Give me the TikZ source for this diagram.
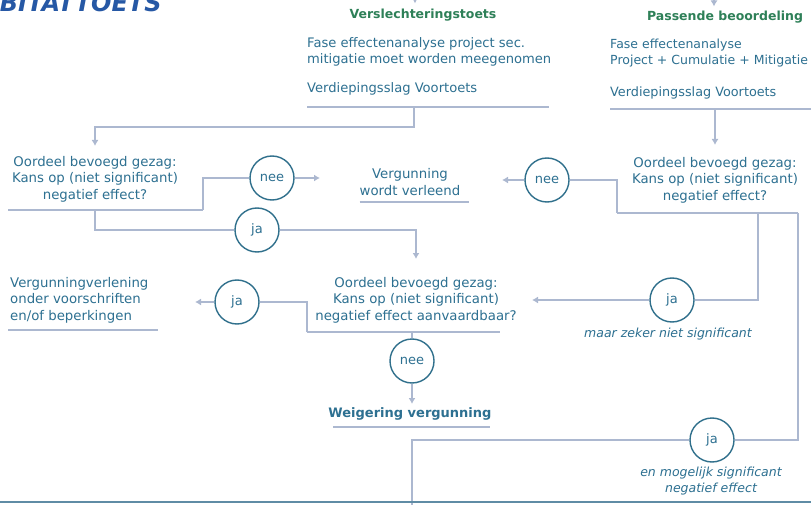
\documentclass[tikz,border=0pt]{standalone}
\usepackage{fontspec}
\setmainfont{DejaVu Sans}
\usetikzlibrary{arrows.meta}

\definecolor{tealtext}{RGB}{45,112,145}
\definecolor{circteal}{RGB}{48,112,140}
\definecolor{wiregray}{RGB}{172,184,208}
\definecolor{headgreen}{RGB}{46,128,88}
\definecolor{titleblue}{RGB}{38,88,165}
\definecolor{edgeline}{RGB}{95,140,165}

\begin{document}
\begin{tikzpicture}[x=1pt, y=-1pt,
  body/.style={font=\fontsize{13.3}{16.5}\selectfont, text=tealtext, inner sep=0pt,
               align=center, anchor=north},
  block/.style={font=\fontsize{13.1}{16}\selectfont, text=tealtext, inner sep=0pt,
                align=left, anchor=north west},
  head/.style={font=\fontsize{12.5}{15}\selectfont\bfseries, text=headgreen,
               inner sep=0pt, anchor=north},
  note/.style={font=\fontsize{12.5}{16}\selectfont\itshape, text=tealtext,
               inner sep=0pt, align=center, anchor=north},
  answer/.style={circle, draw=circteal, line width=1.4pt, minimum size=44pt,
                 inner sep=0pt, fill=white, font=\fontsize{13}{15}\selectfont,
                 text=tealtext},
  wire/.style={draw=wiregray, line width=1.7pt},
  arr/.style={wire, -{Latex[length=6pt, width=7pt]}},
  title/.style={font=\fontsize{24}{28}\selectfont\bfseries\itshape, text=titleblue,
                inner sep=0pt, anchor=base west}
]

  % page
  \fill[white] (0,0) rectangle (811,505);
  \useasboundingbox (0,0) rectangle (811,505);

  % title (cut by the page edge)
  \node[title] (title) at (-39,12) {HABITATTOETS};

  % column heads
  \node[head] (hdrL) at (423,8.5) {Verslechteringstoets};
  \node[head] (hdrR) at (725,10.5) {Passende beoordeling};

  \node[block] (fasL) at (307,37) {Fase effectenanalyse project sec.\\mitigatie moet worden meegenomen};
  \node[block] (verdL) at (307,82) {Verdiepingsslag Voortoets};
  \node[block, font=\fontsize{12.5}{16}\selectfont] (fasR) at (610,38.5) {Fase effectenanalyse\\Project + Cumulatie + Mitigatie};
  \node[block, font=\fontsize{12.8}{16}\selectfont] (verdR) at (610,86.5) {Verdiepingsslag Voortoets};

  % decisions and outcomes
  \node[body] (oordL) at (95,156) {Oordeel bevoegd gezag:\\Kans op (niet significant)\\negatief effect?};
  \node[body] (oordR) at (715,157) {Oordeel bevoegd gezag:\\Kans op (niet significant)\\negatief effect?};
  \node[body] (verleend) at (410,168.5) {Vergunning\\wordt verleend};
  \node[body] (oordM) at (416,277) {Oordeel bevoegd gezag:\\Kans op (niet significant)\\negatief effect aanvaardbaar?};
  \node[body, align=left, anchor=north west] (verlening) at (10,277) {Vergunningverlening\\onder voorschriften\\en/of beperkingen};
  \node[body, font=\fontsize{13}{16}\selectfont\bfseries] (weigering) at (410,407.5) {Weigering vergunning};

  % answers
  \node[answer] (neeL) at (272,178) {nee};
  \node[answer] (jaL) at (257,230) {ja};
  \node[answer] (neeR) at (547,180) {nee};
  \node[answer] (jaM) at (237,302) {ja};
  \node[answer] (jaR) at (672,300) {ja};
  \node[answer] (neeM) at (412,361) {nee};
  \node[answer] (jaB) at (712,440) {ja};

  \node[note] (zeker) at (668,328) {maar zeker niet significant};
  \node[note] (mogelijk) at (711,467) {en mogelijk significant\\negatief effect};

  % corner points
  \coordinate (topL) at (415,-14);
  \coordinate (topR) at (714,-14);
  \coordinate (ulL) at (307,107);
  \coordinate (ulR) at (610,109);
  \coordinate (forkL) at (414,107);
  \coordinate (ulOL) at (8,210);
  \coordinate (ulOR) at (617,213);
  \coordinate (forkR) at (758,213);
  \coordinate (railR) at (798,213);
  \coordinate (ulOM) at (307,332);
  \coordinate (ulV) at (8,330);
  \coordinate (ulW) at (333,427);
  \coordinate (exitB) at (412,520);
  \coordinate (tipL) at (320,178);
  \coordinate (tipR) at (502,180);
  \coordinate (tipM) at (195,302);
  \coordinate (tipJ) at (532,300);
  \coordinate (tipW) at (412,404);

  % underlines
  \draw[wire] (ulL) -- ++(242,0);
  \draw[wire] (ulR) -- ++(215,0);
  \draw[wire] (ulOL) -- ++(195,0);
  \draw[wire] (ulOR) -- (railR);
  \draw[wire] (verleend.south west) ++(0,6) -- ++(109,0);
  \draw[wire] (ulOM) -- ++(193,0);
  \draw[wire] (ulV) -- ++(150,0);
  \draw[wire, line width=1.2pt] (ulW) -- ++(157,0);

  % connectors
  \draw[arr, shorten >=5pt] (topL) -- (topL |- hdrL.north);
  \draw[arr, shorten >=4pt] (topR) -- (topR |- hdrR.north);
  \draw[arr, shorten >=10pt] (forkL) -- ++(0,20) -| (oordL.north);
  \draw[arr, shorten >=12pt] (oordR.north |- ulR) -- (oordR.north);

  \draw[wire] (ulOL) ++(195,0) |- (neeL);
  \draw[arr] (neeL) -- (tipL);
  \draw[wire] (oordL.south |- ulOL) |- (jaL);
  \draw[arr, shorten >=18pt] (jaL) -| (oordM.north);

  \draw[wire] (ulOR) |- (neeR);
  \draw[arr] (neeR) -- (tipR);
  \draw[wire] (forkR) |- (jaR);
  \draw[arr] (jaR) -- (tipJ);
  \draw[wire] (railR) |- (jaB);
  \draw[wire] (jaB) -| (exitB);

  \draw[wire] (ulOM) |- (jaM);
  \draw[arr] (jaM) -- (tipM);
  \draw[wire] (neeM |- ulOM) -- (neeM);
  \draw[arr] (neeM) -- (tipW);

  % page edge
  \draw[edgeline, line width=1.2pt] (0,502) -- (811,502);

\end{tikzpicture}
\end{document}
